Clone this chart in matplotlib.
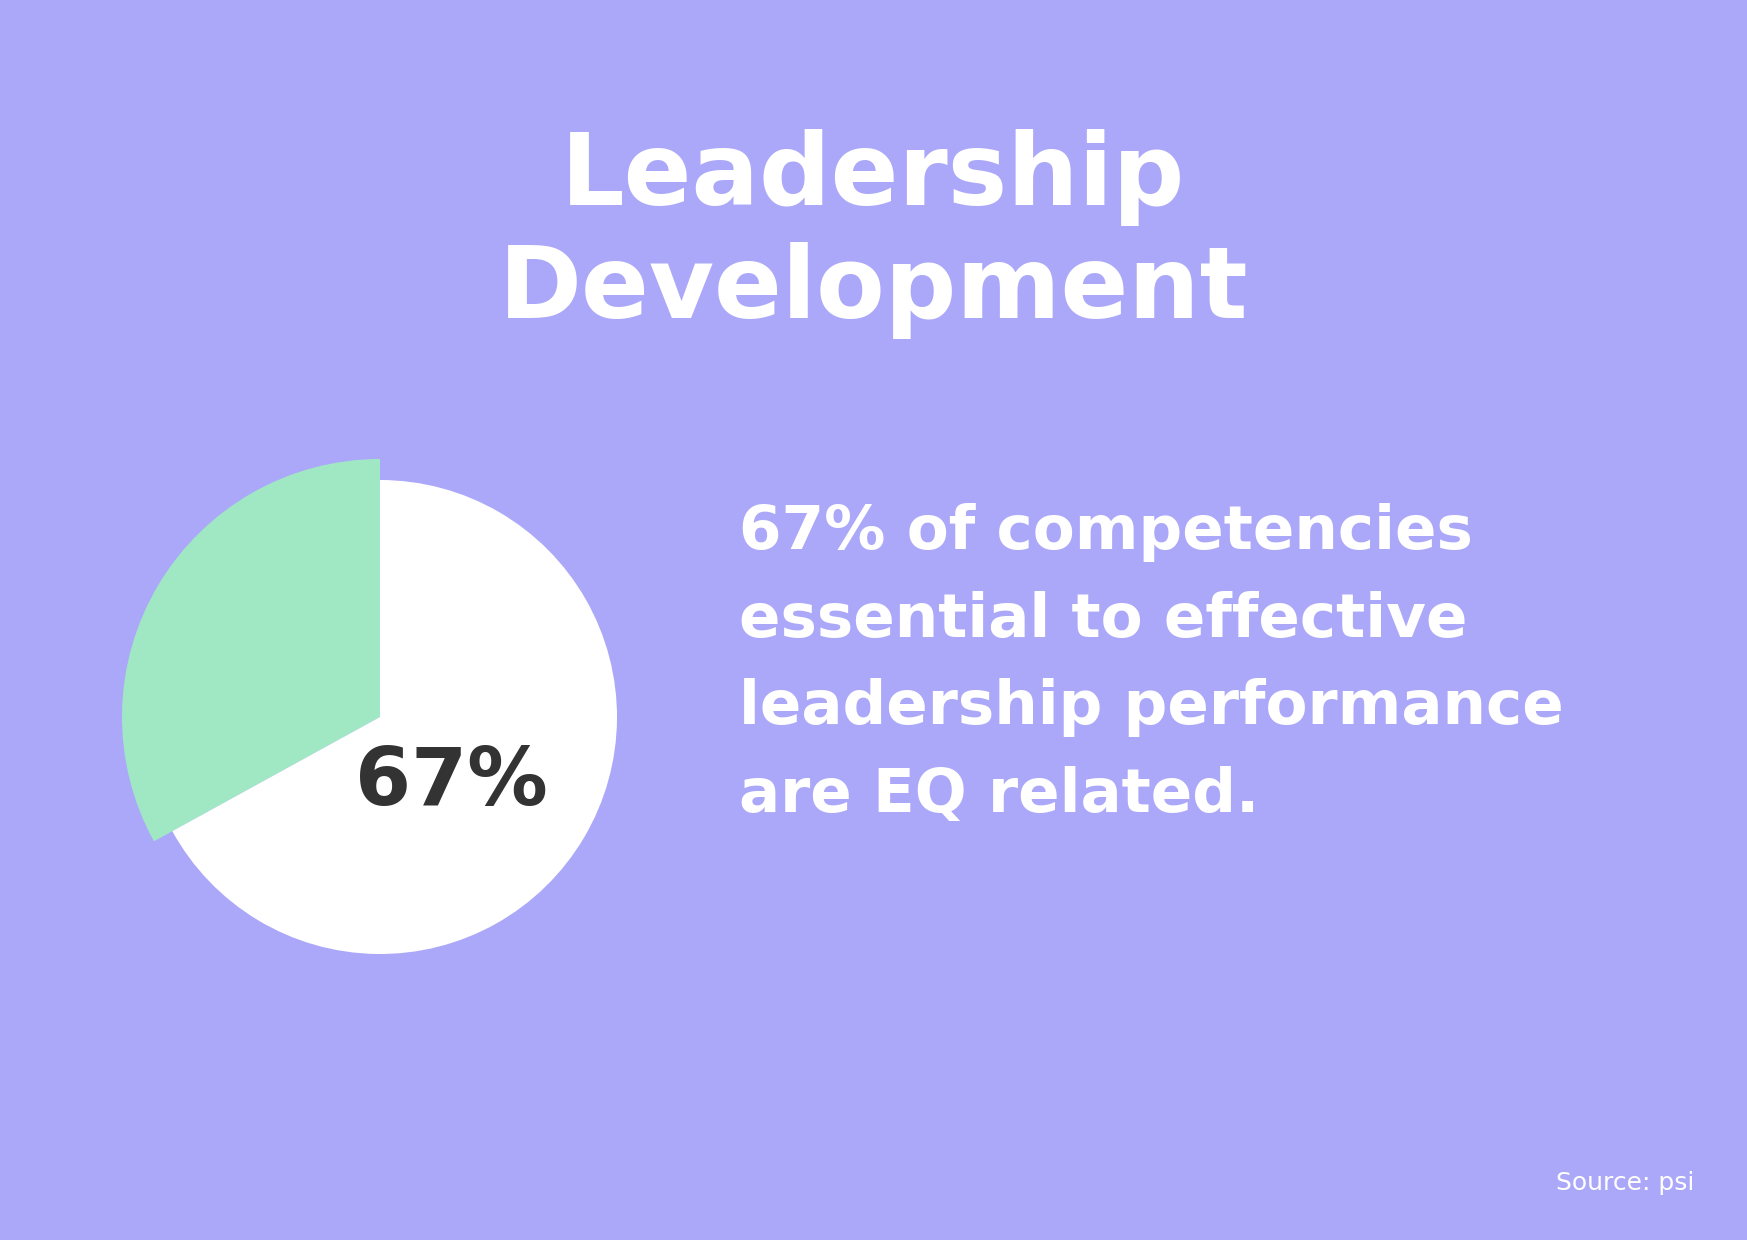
import matplotlib
matplotlib.use("Agg")
import matplotlib.pyplot as plt

# Daten
labels = ["EQ related", "Other"]
shares = [33, 67]
big_number = "67%"
title_text = "Leadership\nDevelopment"
body_text = ("67% of competencies\nessential to effective\n"
             "leadership performance\nare EQ related.")
source_text = "Source: psi"

# Farben
bg = "#ABA8F9"
green = "#A0E8C3"
dark = "#333333"

W, H = 1747, 1240
fig = plt.figure(figsize=(W / 100, H / 100), dpi=100, facecolor=bg)
ax = fig.add_axes([0, 0, 1, 1])
ax.set_facecolor(bg)

# Torte: EQ-Anteil etwas größer gezeichnet
cx, cy = 380, H - 717
wedges, _ = ax.pie(shares, colors=[green, "white"], startangle=90,
                   counterclock=True, center=(cx, cy), radius=237,
                   wedgeprops=dict(linewidth=0))
wedges[0].set_radius(258)

ax.set_xlim(0, W)
ax.set_ylim(0, H)
ax.set_aspect("equal")
ax.axis("off")

ax.text(451, H - 805, big_number, color=dark, fontsize=58, fontweight="bold",
        family="DejaVu Sans", ha="center", va="baseline")

fig.text(0.5, 1 - 234 / H, title_text, color="white", fontsize=72,
         fontweight="bold", family="DejaVu Sans", ha="center", va="center",
         linespacing=1.2)

fig.text(739 / W, 1 - 664 / H, body_text, color="white", fontsize=44,
         fontweight="semibold", family="DejaVu Sans", ha="left", va="center",
         linespacing=1.63)

fig.text(1694 / W, 1 - 1190 / H, source_text, color="white", fontsize=18,
         family="DejaVu Sans", ha="right", va="baseline")

fig.savefig("out.png", dpi=100, facecolor=bg)
